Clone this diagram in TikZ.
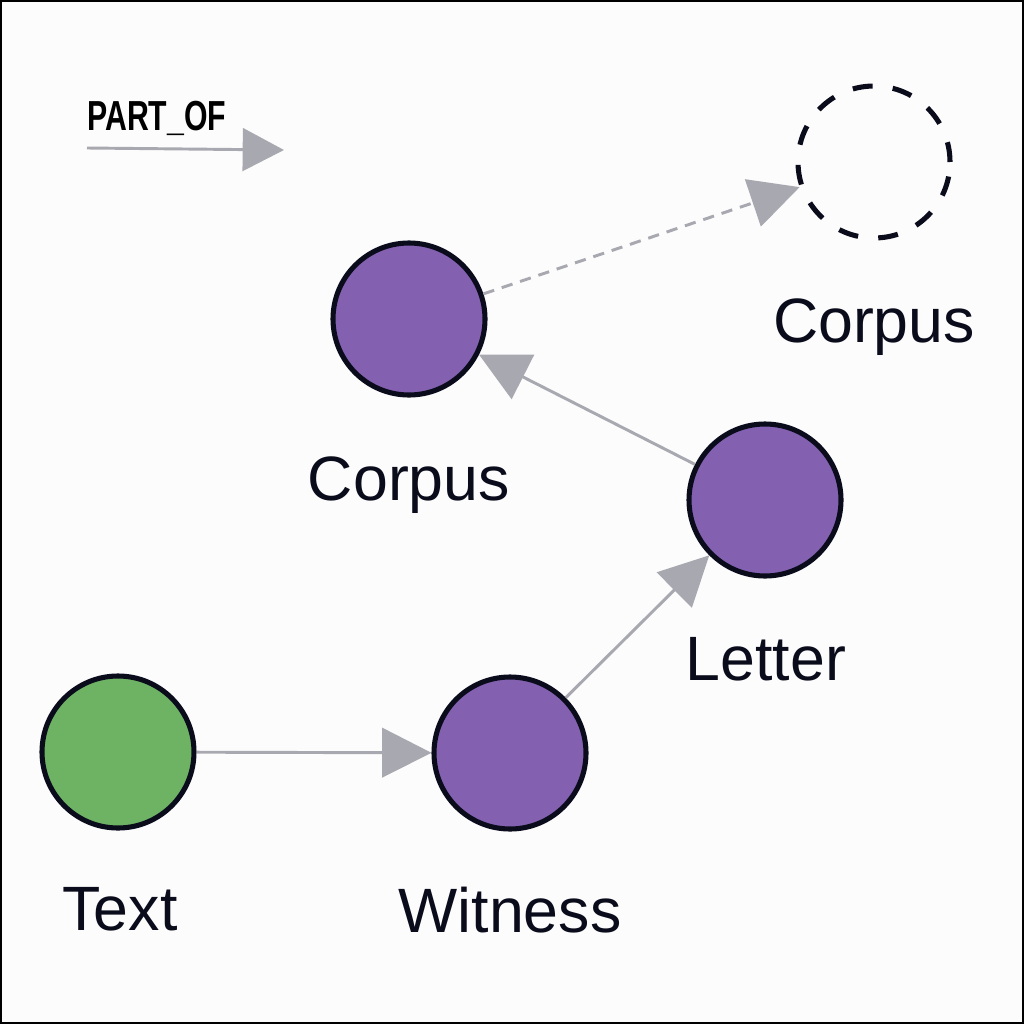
\documentclass[tikz,border=0pt]{standalone}
\usepackage{fontspec}
\usepackage{graphicx}
\setmainfont{Liberation Sans}
\usetikzlibrary{arrows.meta}
\definecolor{bg}{RGB}{252,252,252}
\definecolor{ink}{RGB}{10,12,28}
\definecolor{edgegray}{RGB}{168,168,176}
\definecolor{nodepurple}{RGB}{131,96,176}
\definecolor{nodegreen}{RGB}{110,178,100}
\tikzset{
  ent/.style={circle, draw=ink, line width=3.8pt, minimum size=114pt, inner sep=0pt},
  ghost/.style={circle, draw=ink, line width=3.8pt, minimum size=114pt, inner sep=0pt, dash pattern=on 15pt off 15.2pt},
  lbl/.style={font=\fontsize{47}{56}\selectfont, text=ink, anchor=base, inner sep=0pt},
  rel/.style={draw=edgegray, line width=2.2pt, -{Triangle[length=37pt,width=37pt,fill=edgegray]}},
  reldash/.style={rel, dash pattern=on 8.5pt off 6pt},
}
\begin{document}
\begin{tikzpicture}[x=0.75pt,y=-0.75pt]
\useasboundingbox (0,0) rectangle (1024,1024);
\fill[bg] (0,0) rectangle (1024,1024);
\draw[black, line width=1.6pt] (1,1) rectangle (1023,1023);

% legend
\node[font=\bfseries\fontsize{31.5}{36}\selectfont, text=black, anchor=base west, inner sep=0pt] (legendlbl) at (87,130) {\scalebox{0.72}[1]{PART\_OF}};
\coordinate (legA) at (87,148);
\coordinate (legB) at (284,150);
\draw[draw=edgegray, line width=2.2pt, -{Triangle[length=31pt,width=32pt,fill=edgegray]}] (legA) -- (legB);

% nodes
\node[ent, fill=nodegreen] (text) at (118,752) {};
\node[ent, fill=nodepurple] (witness) at (510,753) {};
\node[ent, fill=nodepurple] (letter) at (765,500) {};
\node[ent, fill=nodepurple] (corpus) at (409,319) {};
\node[ghost] (corpus2) at (874,162) {};

% labels
\node[lbl] (textlbl) at (120,930) {Text};
\node[lbl] (witnesslbl) at (510,932) {Witness};
\node[lbl] (letterlbl) at (766,680) {Letter};
\node[lbl] (corpuslbl) at (409,500) {Corpus};
\node[lbl] (corpus2lbl) at (874,342) {Corpus};

% edges
\draw[rel] (text) -- (witness);
\draw[rel] (witness) -- (letter);
\draw[rel] (letter) -- (corpus);
\draw[reldash] (corpus) -- (corpus2);
\end{tikzpicture}
\end{document}
